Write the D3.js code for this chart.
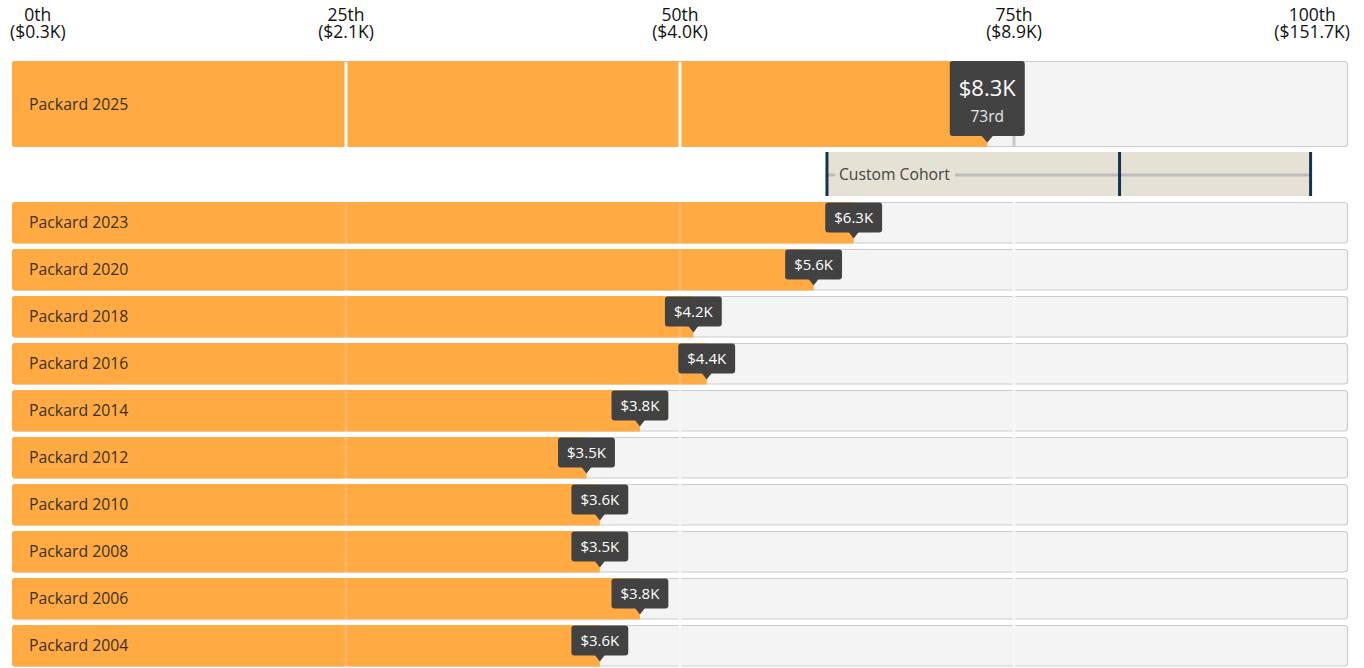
<!DOCTYPE html>
<html>
<head>
<meta charset="utf-8">
<script src="https://cdn.jsdelivr.net/npm/d3@7"></script>
<style>
  html, body { margin: 0; padding: 0; background: #fff; }
  svg { display: block; font-family: "Open Sans", "Noto Sans", sans-serif; }
</style>
</head>
<body>
<svg id="chart" width="1364" height="668"></svg>
<script>
// ---- data ----
const categories = ["Packard 2025", "Packard 2023", "Packard 2020", "Packard 2018", "Packard 2016",
  "Packard 2014", "Packard 2012", "Packard 2010", "Packard 2008", "Packard 2006", "Packard 2004"];
const percentiles = [73, 63, 60, 51, 52, 47, 43, 44, 44, 47, 44];
const valuesK = [8.3, 6.3, 5.6, 4.2, 4.4, 3.8, 3.5, 3.6, 3.5, 3.8, 3.6];
const tickPercentiles = [0, 25, 50, 75, 100];
const tickNames = ["0th", "25th", "50th", "75th", "100th"];
const tickValues = ["($0.3K)", "($2.1K)", "($4.0K)", "($8.9K)", "($151.7K)"];
const cohortLabel = "Custom Cohort";
const cohortPercentiles = [61, 82.9, 97.2];

// ---- layout ----
const svg = d3.select("#chart");
const x = d3.scaleLinear().domain([0, 100]).range([12, 1348]);
const orange = "#ffaa42";
const barBg = "#f4f4f4";
const border = "#cccccc";
const tipFill = "#424242";

function ordinal(n) {
  const s = ["th", "st", "nd", "rd"], v = n % 100;
  return n + (s[(v - 20) % 10] || s[v] || s[0]);
}

// header tick labels
const header = svg.append("g");
tickPercentiles.forEach((p, i) => {
  const g = header.append("g");
  const t1 = g.append("text").attr("y", 21).attr("text-anchor", "middle")
    .attr("font-size", 17.5).attr("fill", "#111").text(tickNames[i]);
  const t2 = g.append("text").attr("y", 38).attr("text-anchor", "middle")
    .attr("font-size", 17.5).attr("fill", "#111").text(tickValues[i]);
  const hw = Math.max(t1.node().getComputedTextLength(), t2.node().getComputedTextLength()) / 2;
  const cx = Math.min(Math.max(x(p), 10 + hw), 1350 - hw);
  g.attr("transform", `translate(${cx},0)`);
});

// rows: first is the main bar, then the history bars
const rows = categories.map((c, i) => ({
  name: c, p: percentiles[i], v: valuesK[i], main: i === 0,
  y: i === 0 ? 61 : 202 + (i - 1) * 47,
  h: i === 0 ? 86 : 41.5
}));

const gridP = [25, 50, 75];

rows.forEach(r => {
  const g = svg.append("g");
  g.append("rect").attr("x", x(0) + 0.5).attr("y", r.y + 0.5)
    .attr("width", x(100) - x(0) - 1).attr("height", r.h - 1)
    .attr("rx", 3).attr("fill", barBg).attr("stroke", border).attr("stroke-width", 1.2);
  if (!r.main) {
    gridP.forEach(p => {
      g.append("line").attr("x1", x(p)).attr("x2", x(p)).attr("y1", r.y - 1).attr("y2", r.y + r.h + 1)
        .attr("stroke", "#f7f7f7").attr("stroke-width", 3);
    });
  }
  // filled part
  g.append("path").attr("d", () => {
    const x0 = x(0), x1 = x(r.p), y0 = r.y, y1 = r.y + r.h, rr = 3;
    return `M${x0 + rr},${y0} H${x1} V${y1} H${x0 + rr} Q${x0},${y1} ${x0},${y1 - rr} V${y0 + rr} Q${x0},${y0} ${x0 + rr},${y0} Z`;
  }).attr("fill", orange);
  if (r.main) {
    gridP.forEach(p => {
      g.append("line").attr("x1", x(p)).attr("x2", x(p)).attr("y1", r.y + 1).attr("y2", r.y + r.h)
        .attr("stroke", p < r.p ? "#ffffff" : "#c8c8c8").attr("stroke-width", 3);
    });
  } else {
    gridP.filter(p => p < r.p).forEach(p => {
      g.append("line").attr("x1", x(p)).attr("x2", x(p)).attr("y1", r.y).attr("y2", r.y + r.h)
        .attr("stroke", "#ffffff").attr("stroke-opacity", 0.15).attr("stroke-width", 3);
    });
  }
  g.append("text").attr("x", 29).attr("y", r.y + r.h / 2).attr("dy", "0.35em")
    .attr("font-size", 15.8).attr("fill", "#3a3027").text(r.name);

  // tooltip
  const cx = x(r.p);
  const tg = svg.append("g");
  if (r.main) {
    const bw = 75, bh = 75, top = r.y;
    tg.append("rect").attr("x", cx - bw / 2).attr("y", top).attr("width", bw).attr("height", bh)
      .attr("rx", 3).attr("fill", tipFill);
    tg.append("path").attr("d", `M${cx - 6},${top + bh - 0.5} L${cx},${top + bh + 6.5} L${cx + 6},${top + bh - 0.5} Z`).attr("fill", tipFill);
    tg.append("text").attr("x", cx).attr("y", top + 35).attr("text-anchor", "middle")
      .attr("font-size", 22).attr("fill", "#fff").text(`$${r.v.toFixed(1)}K`);
    tg.append("text").attr("x", cx).attr("y", top + 60.5).attr("text-anchor", "middle")
      .attr("font-size", 15.5).attr("fill", "#e8e8e8").text(ordinal(r.p));
  } else {
    const top = r.y + 0.5, bh = 30;
    const t = tg.append("text").attr("x", cx).attr("y", top + 20).attr("text-anchor", "middle")
      .attr("font-size", 15).attr("fill", "#fff").text(`$${r.v.toFixed(1)}K`);
    const bw = t.node().getComputedTextLength() + 18;
    tg.insert("rect", "text").attr("x", cx - bw / 2).attr("y", top).attr("width", bw).attr("height", bh)
      .attr("rx", 3).attr("fill", tipFill);
    tg.insert("path", "text").attr("d", `M${cx - 5},${top + bh - 0.5} L${cx},${top + bh + 6} L${cx + 5},${top + bh - 0.5} Z`).attr("fill", tipFill);
  }
});

// custom cohort band
const cg = svg.append("g");
const cy0 = 152, ch = 44;
const [cLo, cMid, cHi] = cohortPercentiles;
cg.append("rect").attr("x", x(cLo)).attr("y", cy0).attr("width", x(cHi) - x(cLo)).attr("height", ch)
  .attr("fill", "#e5e1d5");
const lbl = cg.append("text").attr("x", x(cLo) + 12).attr("y", cy0 + ch / 2 + 0.5).attr("dy", "0.35em")
  .attr("font-size", 15.7).attr("fill", "#444").text(cohortLabel);
const lw = lbl.node().getComputedTextLength();
cg.append("line").attr("x1", x(cLo)).attr("x2", x(cLo) + 8).attr("y1", cy0 + ch / 2 + 1).attr("y2", cy0 + ch / 2 + 1)
  .attr("stroke", "#bbbbbb").attr("stroke-width", 3);
cg.append("line").attr("x1", x(cLo) + 12 + lw + 5).attr("x2", x(cHi)).attr("y1", cy0 + ch / 2 + 1).attr("y2", cy0 + ch / 2 + 1)
  .attr("stroke", "#bbbbbb").attr("stroke-width", 3);
cohortPercentiles.forEach(p => {
  cg.append("line").attr("x1", x(p)).attr("x2", x(p)).attr("y1", cy0).attr("y2", cy0 + ch)
    .attr("stroke", "#15334f").attr("stroke-width", 3);
});
</script>
</body>
</html>
